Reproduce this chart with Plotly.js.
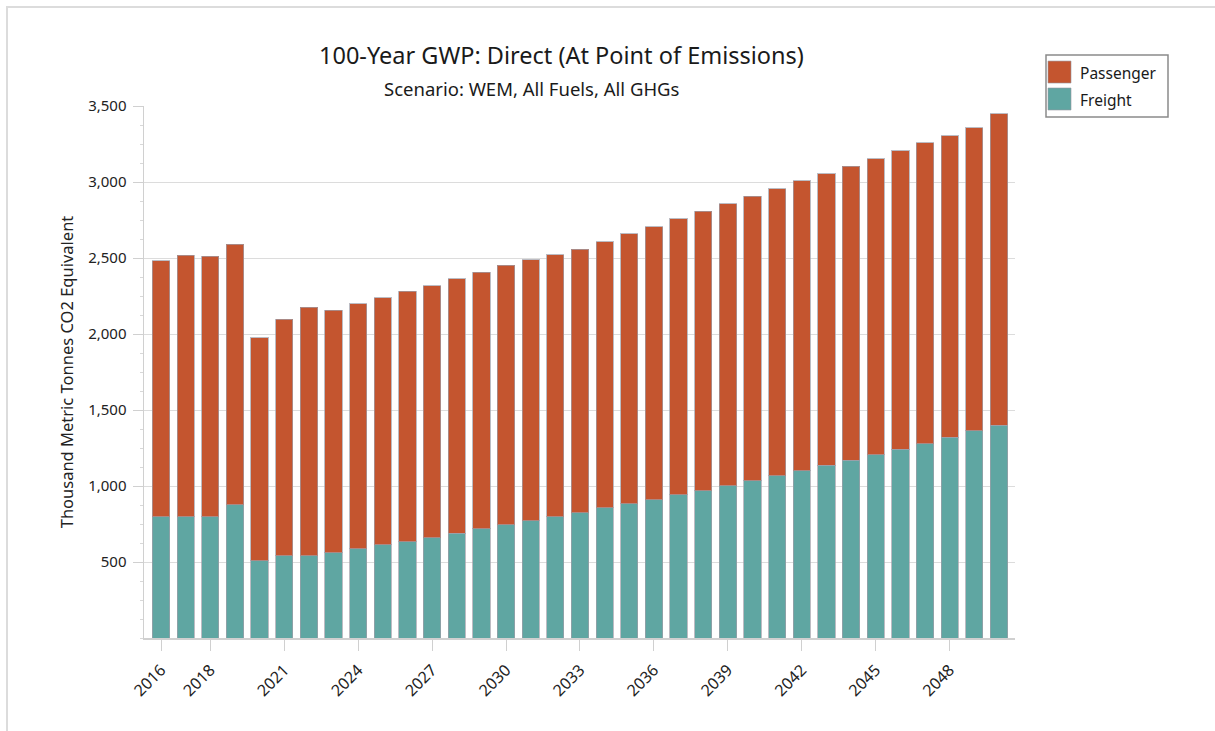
<!DOCTYPE html>
<html>
<head>
<meta charset="utf-8">
<script src="https://cdn.plot.ly/plotly-3.0.1.min.js"></script>
<style>
  html, body { margin: 0; padding: 0; background: #ffffff; }
  #frame {
    position: absolute; left: 6px; top: 6px; width: 1209px; height: 725px;
    border-left: 2px solid #dcdcdc; border-top: 2px solid #dcdcdc;
    pointer-events: none;
  }
  #chart { position: absolute; left: 0; top: 0; width: 1215px; height: 731px; }
</style>
</head>
<body>
<div id="chart"></div>
<div id="frame"></div>
<script>
// Emissions by sector, thousand metric tonnes CO2 equivalent
const years = [2016, 2017, 2018, 2019, 2020, 2021, 2022, 2023, 2024, 2025,
               2026, 2027, 2028, 2029, 2030, 2031, 2032, 2033, 2034, 2035,
               2036, 2037, 2038, 2039, 2040, 2041, 2042, 2043, 2044, 2045,
               2046, 2047, 2048, 2049, 2050];

const freight = [797, 797, 797, 876, 507, 542, 542, 562, 588, 612,
                 634, 661, 690, 718, 744, 772, 797, 823, 856, 882,
                 908, 941, 970, 1002, 1033, 1066, 1101, 1136, 1171, 1206,
                 1243, 1278, 1320, 1362, 1399];

const passenger = [1684, 1722, 1715, 1713, 1468, 1554, 1635, 1593, 1611, 1626,
                   1646, 1658, 1675, 1689, 1709, 1716, 1726, 1735, 1752, 1777,
                   1799, 1816, 1838, 1854, 1874, 1891, 1906, 1919, 1933, 1948,
                   1961, 1979, 1985, 1994, 2049];

const xTickYears = [2016, 2018, 2021, 2024, 2027, 2030, 2033, 2036, 2039, 2042, 2045, 2048];
const yTickValues = [500, 1000, 1500, 2000, 2500, 3000, 3500];

const seriesNames = ['Passenger', 'Freight'];
const seriesColors = {Passenger: '#c4552f', Freight: '#5fa6a2'};

const titleText = '100-Year GWP: Direct (At Point of Emissions)';
const subtitleText = 'Scenario: WEM, All Fuels, All GHGs';
const yTitleText = 'Thousand Metric Tonnes CO2 Equivalent';

const FONT = '"Noto Sans", "Open Sans", sans-serif';

// plot area in page pixels
const W = 1215, H = 731;
const M = {l: 144, r: W - 1015, t: 106, b: H - 638.5};
const plotW = W - M.l - M.r, plotH = H - M.t - M.b;
const px = x => (x - M.l) / plotW;       // page x -> paper x
const py = y => (H - M.b - y) / plotH;   // page y -> paper y

const outline = {color: 'rgba(160,160,170,0.7)', width: 1};

const traces = [
  {
    type: 'bar', name: 'Freight', x: years, y: freight,
    marker: {color: seriesColors.Freight, line: outline},
    hoverinfo: 'x+y+name'
  },
  {
    type: 'bar', name: 'Passenger', x: years, y: passenger,
    marker: {color: seriesColors.Passenger, line: outline},
    hoverinfo: 'x+y+name'
  }
];

// hand-built legend box with large swatches
const legendBox = {x0: 1046, x1: 1168, y0: 55, y1: 117};
const shapes = [{
  type: 'rect', xref: 'paper', yref: 'paper', layer: 'above',
  x0: px(legendBox.x0), x1: px(legendBox.x1), y0: py(legendBox.y1), y1: py(legendBox.y0),
  line: {color: '#8a8a8a', width: 1.5}, fillcolor: 'rgba(255,255,255,0)'
}];
const annotations = [
  {
    xref: 'paper', yref: 'paper', x: px(561), y: py(55), xanchor: 'center', yanchor: 'middle',
    text: titleText, showarrow: false, font: {family: FONT, size: 23.5, color: '#1a1a1a'}
  },
  {
    xref: 'paper', yref: 'paper', x: px(532), y: py(88), xanchor: 'center', yanchor: 'middle',
    text: subtitleText, showarrow: false, font: {family: FONT, size: 18.5, color: '#1a1a1a'}
  }
];
seriesNames.forEach((name, i) => {
  const top = 61 + i * 27;
  shapes.push({
    type: 'rect', xref: 'paper', yref: 'paper', layer: 'above',
    x0: px(1048), x1: px(1071), y0: py(top + 22), y1: py(top),
    line: {color: 'rgba(150,150,160,0.6)', width: 1}, fillcolor: seriesColors[name]
  });
  annotations.push({
    xref: 'paper', yref: 'paper', x: px(1078), y: py(top + 12), xanchor: 'left', yanchor: 'middle',
    text: name, showarrow: false, font: {family: FONT, size: 15.5, color: '#1a1a1a'}
  });
});

const layout = {
  width: W, height: H,
  margin: M,
  paper_bgcolor: 'rgba(0,0,0,0)',
  plot_bgcolor: '#ffffff',
  barmode: 'stack',
  bargap: 0.3,
  showlegend: false,
  font: {family: FONT, color: '#222222', size: 15},
  xaxis: {
    range: [2015.31, 2050.65],
    tickvals: xTickYears,
    ticktext: xTickYears.map(String),
    tickangle: -45,
    ticks: 'outside', ticklen: 11, tickcolor: '#d0d0d0', tickwidth: 1,
    ticklabelstandoff: 4,
    showline: true, linecolor: '#d0d0d0', linewidth: 1.5,
    showgrid: false, zeroline: false,
    tickfont: {family: FONT, size: 16, color: '#222222'}
  },
  yaxis: {
    range: [0, 3500],
    tickvals: yTickValues,
    tickformat: ',d',
    ticks: 'outside', ticklen: 10, tickcolor: '#d0d0d0', tickwidth: 1,
    ticklabelstandoff: 3,
    minor: {dtick: 125, ticks: 'outside', ticklen: 3, tickcolor: '#d8d8d8', showgrid: false},
    showline: true, linecolor: '#d0d0d0', linewidth: 1.5,
    showgrid: true, gridcolor: '#dcdcdc', gridwidth: 1,
    zeroline: false,
    tickfont: {family: FONT, size: 15, color: '#222222'},
    title: {text: yTitleText, standoff: 10, font: {family: FONT, size: 16.5, color: '#222222'}}
  },
  shapes: shapes,
  annotations: annotations
};

Plotly.newPlot('chart', traces, layout, {displayModeBar: false, staticPlot: true});
</script>
</body>
</html>
